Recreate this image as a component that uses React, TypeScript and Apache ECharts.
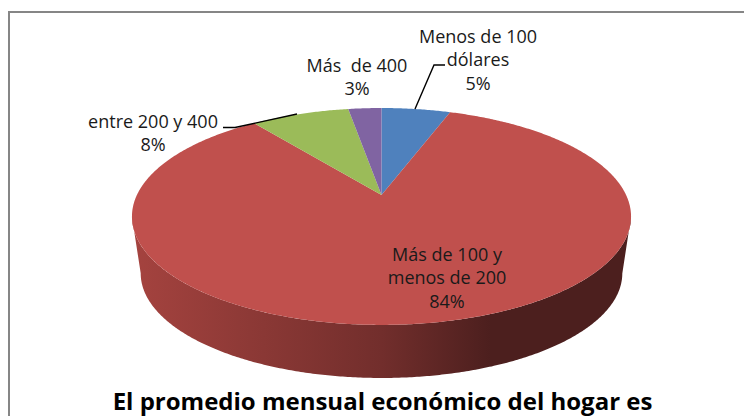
import React, { useEffect, useRef } from "react";
import * as echarts from "echarts";

const categories = ["Menos de 100 dólares", "Más de 100 y menos de 200", "entre 200 y 400", "Más de 400"];
const labelLines = [["Menos de 100", "dólares"], ["Más de 100 y", "menos de 200"], ["entre 200 y 400"], ["Más  de 400"]];
const values = [5.4, 84.3, 7.7, 2.6];
const colors = ["#4f81bd", "#c0504d", "#9bbb59", "#8064a2"];
const titleText = "El promedio mensual económico del hogar es";

const labelText = (i: number) => [...labelLines[i], `${Math.round(values[i])}%`].join("\n");

const CX = 381.5, CY = 195, A = 244.6, B = 104.2, K = 0.198, DEPTH_SCALE = 0.965, CY_LOW = 252.6;
const project = (deg: number, low = false) => {
  const t = (deg * Math.PI) / 180;
  const u = Math.sin(t), v = -Math.cos(t), w = 1 - K * v;
  const s = low ? DEPTH_SCALE : 1;
  return [CX + (s * A * u) / w, (low ? CY_LOW : CY) + (s * B * v) / w];
};

const total = values.reduce((a, b) => a + b, 0);

function renderSlice(params: any, api: any) {
  const i = params.dataIndex;
  let start = 0;
  for (let j = 0; j < i; j++) start += (values[j] / total) * 360;
  const end = start + (api.value(1) / total) * 360;
  const pts: number[][] = [[CX, CY]];
  for (let a = start; a < end; a += 0.5) pts.push(project(a));
  pts.push(project(end));
  const children: any[] = [];
  const f0 = (Math.acos(-K) * 180) / Math.PI, f1 = 360 - f0;
  const s0 = Math.max(start, f0), s1 = Math.min(end, f1);
  if (s1 > s0) {
    const side: number[][] = [];
    for (let a = s0; a <= s1; a += 0.5) side.push(project(a));
    for (let a = s1; a >= s0; a -= 0.5) side.push(project(a, true));
    children.push({
      type: "polygon",
      shape: { points: side },
      style: {
        fill: new echarts.graphic.LinearGradient(0, 0, 1, 0, [
          { offset: 0, color: "#a5433f" },
          { offset: 0.5, color: "#722e2c" },
          { offset: 0.72, color: "#4c1f1e" },
          { offset: 1, color: "#4c1f1e" },
        ]),
      },
    });
  }
  children.push({ type: "polygon", shape: { points: pts }, style: { fill: colors[i] } });
  return { type: "group", children };
}

const labelStyle = { fontFamily: "'Open Sans'", fontSize: 18, fill: "#1a1a1a", textAlign: "center", lineHeight: 23.5 };

export default function App() {
  const ref = useRef<HTMLDivElement>(null);
  useEffect(() => {
    const chart = echarts.init(ref.current!, undefined, { renderer: "svg" });
    chart.setOption({
      animation: false,
      backgroundColor: "#fff",
      xAxis: { show: false, type: "value", min: 0, max: 1 },
      yAxis: { show: false, type: "value", min: 0, max: 1 },
      grid: { left: 0, right: 0, top: 0, bottom: 0 },
      series: [
        {
          type: "custom",
          coordinateSystem: "none",
          renderItem: renderSlice,
          data: categories.map((c, i) => ({ name: c, value: [i, values[i]] })),
          silent: true,
          z: 2,
        },
      ],
      graphic: [
        { type: "polyline", z: 1, shape: { points: [[744, 12], [9, 12], [9, 416]] }, style: { stroke: "#868686", lineWidth: 2, fill: "none" } },
        { type: "polyline", z: 5, shape: { points: [[415, 109], [434, 65], [445, 65]] }, style: { stroke: "#000", lineWidth: 1.4, fill: "none" } },
        { type: "polyline", z: 5, shape: { points: [[223, 127.5], [235, 127.5], [297, 114]] }, style: { stroke: "#000", lineWidth: 1.4, fill: "none" } },
        { type: "text", z: 6, x: 478, y: 24, style: { ...labelStyle, text: labelText(0) } },
        { type: "text", z: 6, x: 447, y: 242, style: { ...labelStyle, text: labelText(1) } },
        { type: "text", z: 6, x: 153, y: 109, style: { ...labelStyle, text: labelText(2) } },
        { type: "text", z: 6, x: 357, y: 53, style: { ...labelStyle, text: labelText(3) } },
        { type: "text", z: 6, x: 382.5, y: 388, style: { text: titleText, fontFamily: "'Open Sans'", fontWeight: "bold", fontSize: 24, fill: "#000", textAlign: "center" } },
      ],
    });
    return () => chart.dispose();
  }, []);
  return <div ref={ref} style={{ position: "fixed", left: 0, top: 0, width: 744, height: 416 }} />;
}
